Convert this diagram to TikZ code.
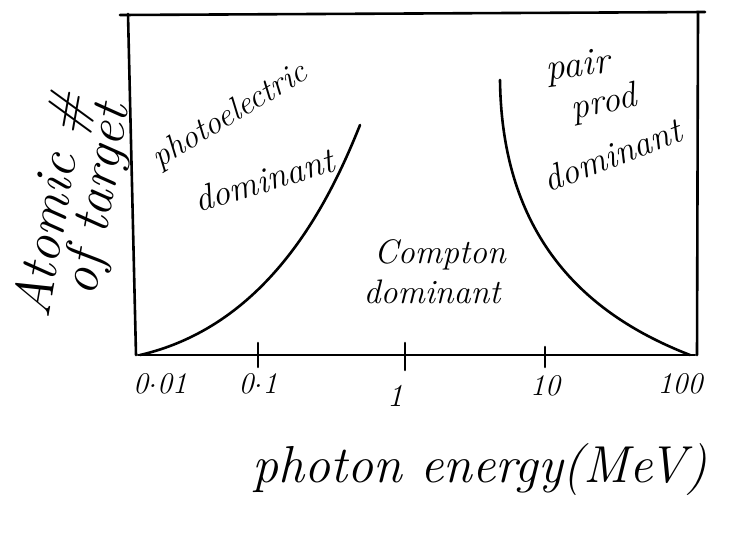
\documentclass[tikz,border=0pt]{standalone}
\usepackage{fontspec}
\setmainfont{Latin Modern Roman}
\newcommand{\hdot}{\raisebox{0.22em}{.}}
\begin{document}
\begin{tikzpicture}[x=1pt,y=-1pt,
  ink/.style={line width=2.6pt,line cap=round,black},
  hand/.style={font=\itshape\fontsize{#1}{#1}\selectfont,inner sep=0pt,anchor=center},
  hand/.default=26]
\useasboundingbox (0,0) rectangle (735,550);
\coordinate (tl) at (120,15);
\coordinate (tr) at (705,12);
\coordinate (lt) at (128,14);
\coordinate (lb) at (136,355);
\coordinate (rt) at (698,12);
\coordinate (rb) at (697,355);
\coordinate (bl) at (138,355);
\coordinate (br) at (695,355);
\draw[ink] (tl) -- (tr);
\draw[ink] (lt) -- (lb);
\draw[ink] (rt) -- (rb);
\draw[ink] (bl) -- (br);
% ticks
\foreach \n/\x/\a/\b in {t1/258/343/367,t2/405/343/370,t3/545/347/367}{
  \coordinate (\n a) at (\x,\a); \coordinate (\n b) at (\x,\b);
  \draw[ink] (\n a) -- (\n b);}
% curves
\coordinate (c1s) at (140,355);
\coordinate (c1e) at (360,125);
\draw[ink] (c1s) .. controls (270,325) and (330,200) .. (c1e);
\coordinate (c2s) at (500,80);
\coordinate (c2e) at (690,355);
\draw[ink] (c2s) .. controls (502,250) and (600,320) .. (c2e);
% tick labels
\node[hand=30] (l1) at (160,384) {0\hdot01};
\node[hand=30] (l2) at (258,384) {0\hdot1};
\node[hand=32] (l3) at (395,396) {1};
\node[hand=30] (l4) at (545,386) {10};
\node[hand=30] (l5) at (680,384) {100};
% region labels
\node[hand=33,rotate=31] (pe) at (230,116) {photoelectric};
\node[hand=36,rotate=17] (ped) at (264,180) {dominant};
\node[hand=38,rotate=8] (pp1) at (578,68) {pair};
\node[hand=36,rotate=12] (pp2) at (604,104) {prod};
\node[hand=36,rotate=21] (pp3) at (612,155) {dominant};
\node[hand=34] (co1) at (440,255) {Compton};
\node[hand=34] (co2) at (432,292) {dominant};
% axis titles
\node[hand=54,rotate=80] (ya) at (54,205) {Atomic \#};
\node[hand=54,rotate=80] (yb) at (99,200) {of target};
\node[hand=52] (xa) at (480,470) {photon energy(MeV)};
\end{tikzpicture}
\end{document}
